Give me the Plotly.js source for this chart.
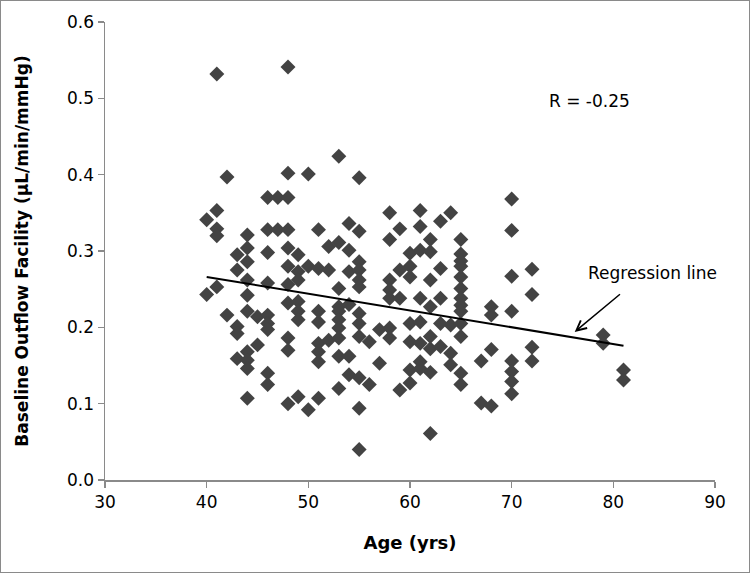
<!DOCTYPE html>
<html>
<head>
<meta charset="utf-8">
<script src="https://cdn.plot.ly/plotly-3.0.1.min.js"></script>
<style>
  html, body { margin: 0; padding: 0; background: #fff; }
  #chart { width: 748px; height: 571px; border: 1px solid #8a8a8a; }
</style>
</head>
<body>
<div id="chart"></div>
<script>
// Age (years) of each eye/subject
const ages = [
  40,40,
  41,41,41,41,41,
  42,42,
  43,43,43,43,43,
  44,44,44,44,44,44,44,44,44,44,
  45,45,
  46,46,46,46,46,46,46,46,46,
  47,47,
  48,48,48,48,48,48,48,48,48,48,48,
  49,49,49,49,49,49,49,
  50,50,50,
  51,51,51,51,51,51,51,51,
  52,52,52,
  53,53,53,53,53,53,53,53,53,53,
  54,54,54,54,54,54,
  55,55,55,55,55,55,55,55,55,55,55,55,
  56,56,
  57,57,
  58,58,58,58,58,58,58,
  59,59,59,59,
  60,60,60,60,60,60,60,
  61,61,61,61,61,61,61,61,
  62,62,62,62,62,62,62,62,
  63,63,63,63,63,
  64,64,64,64,
  65,65,65,65,65,65,65,65,65,65,65,65,65,
  67,67,
  68,68,68,68,
  70,70,70,70,70,70,70,70,
  72,72,72,72,
  79,79,
  81,81
];
// Baseline outflow facility (µL/min/mmHg)
const facility = [
  0.341,0.243,
  0.532,0.353,0.329,0.320,0.253,
  0.397,0.216,
  0.295,0.275,0.201,0.192,0.159,
  0.321,0.304,0.286,0.262,0.242,0.221,0.168,0.157,0.146,0.107,
  0.214,0.177,
  0.370,0.328,0.298,0.258,0.216,0.205,0.197,0.140,0.125,
  0.370,0.328,
  0.541,0.402,0.370,0.328,0.304,0.280,0.256,0.232,0.186,0.170,0.100,
  0.295,0.273,0.262,0.234,0.221,0.210,0.109,
  0.401,0.280,0.092,
  0.328,0.277,0.221,0.207,0.179,0.168,0.155,0.107,
  0.306,0.275,0.183,
  0.424,0.311,0.251,0.227,0.221,0.210,0.199,0.186,0.162,0.120,
  0.336,0.301,0.273,0.230,0.162,0.138,
  0.396,0.326,0.286,0.275,0.262,0.253,0.218,0.205,0.188,0.134,0.094,0.040,
  0.181,0.125,
  0.197,0.153,
  0.350,0.315,0.262,0.249,0.238,0.199,0.186,
  0.329,0.275,0.238,0.118,
  0.297,0.280,0.266,0.205,0.181,0.144,0.127,
  0.353,0.332,0.301,0.238,0.207,0.179,0.155,0.146,
  0.315,0.299,0.262,0.227,0.188,0.172,0.141,0.061,
  0.339,0.277,0.238,0.205,0.175,
  0.350,0.203,0.166,0.151,
  0.315,0.296,0.287,0.280,0.266,0.251,0.238,0.229,0.221,0.205,0.188,0.140,0.125,
  0.156,0.101,
  0.227,0.216,0.171,0.097,
  0.368,0.327,0.267,0.221,0.156,0.142,0.129,0.113,
  0.276,0.243,0.174,0.156,
  0.190,0.179,
  0.144,0.131
];
// Regression line end points (age, facility)
const regAge = [40, 81];
const regFacility = [0.266, 0.176];

const xTickVals = [30, 40, 50, 60, 70, 80, 90];
const yTickVals = [0, 0.1, 0.2, 0.3, 0.4, 0.5, 0.6];
const rText = "R = -0.25";
const regLabel = "Regression line";

const FONT = "DejaVu Sans, Liberation Sans, Arial, sans-serif";
const AXC = "#8a8a8a";

const traces = [
  {
    type: "scatter", mode: "markers",
    x: ages, y: facility,
    marker: { symbol: "diamond", size: 11.5, color: "#434343", line: { width: 0 } },
    hoverinfo: "x+y", showlegend: false, cliponaxis: false
  },
  {
    type: "scatter", mode: "lines",
    x: regAge, y: regFacility,
    line: { color: "#000000", width: 2 },
    showlegend: false
  }
];

const layout = {
  width: 748, height: 571,
  margin: { l: 104, r: 34, t: 21, b: 92 },
  paper_bgcolor: "#ffffff", plot_bgcolor: "#ffffff",
  font: { family: FONT, size: 17, color: "#000000" },
  showlegend: false,
  xaxis: {
    range: [30, 90], tickvals: xTickVals,
    showgrid: false, zeroline: false,
    showline: true, linecolor: AXC, linewidth: 1.5,
    ticks: "outside", ticklen: 6, tickcolor: AXC, tickwidth: 1.5,
    tickfont: { family: FONT, size: 17, color: "#000" },
    title: { text: "<b>Age (yrs)</b>", font: { family: FONT, size: 18, color: "#000" }, standoff: 25 }
  },
  yaxis: {
    range: [0, 0.6], tickvals: yTickVals, tickformat: ".1f",
    showgrid: false, zeroline: false,
    showline: true, linecolor: AXC, linewidth: 1.5,
    ticks: "outside", ticklen: 6, tickcolor: AXC, tickwidth: 1.5,
    tickfont: { family: FONT, size: 17, color: "#000" },
    title: { text: "<b>Baseline Outflow Facility (µL/min/mmHg)</b>", font: { family: FONT, size: 17, color: "#000" }, standoff: 34 }
  },
  annotations: [
    { x: 77.7, y: 0.4965, xref: "x", yref: "y", text: rText, showarrow: false,
      font: { family: FONT, size: 17, color: "#000" } },
    { x: 83.9, y: 0.271, xref: "x", yref: "y", text: regLabel, showarrow: false,
      font: { family: FONT, size: 17, color: "#000" } },
    { x: 76.2, y: 0.194, xref: "x", yref: "y", text: "", showarrow: true,
      ax: 80.8, ay: 0.245, axref: "x", ayref: "y",
      arrowhead: 5, arrowsize: 1.3, arrowwidth: 1.5, arrowcolor: "#000", standoff: 0 }
  ]
};

Plotly.newPlot("chart", traces, layout, { displayModeBar: false, staticPlot: true });
</script>
</body>
</html>
